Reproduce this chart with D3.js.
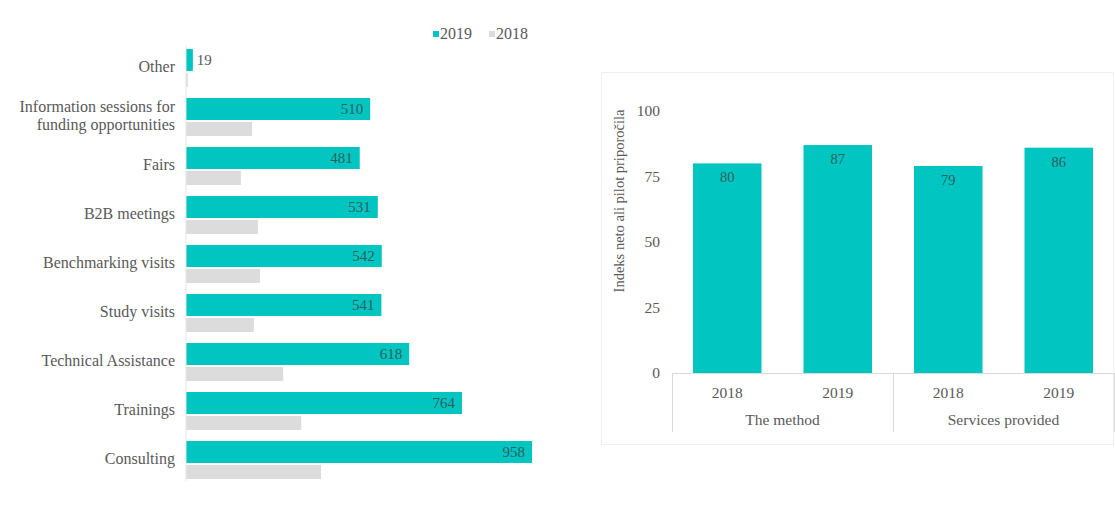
<!DOCTYPE html>
<html><head><meta charset="utf-8">
<script src="https://cdn.jsdelivr.net/npm/d3@7"></script>
<style>body{margin:0;background:#fff}svg{display:block}text{font-family:"Liberation Serif","Times New Roman",serif}</style>
</head><body><svg id="c" width="1115" height="522"></svg>
<script>
const categories = ["Other","Information sessions for|funding opportunities","Fairs","B2B meetings","Benchmarking visits","Study visits","Technical Assistance","Trainings","Consulting"];
const values2019 = [19,510,481,531,542,541,618,764,958];
const values2018 = [5,183,152,199,205,188,269,319,374];
const seriesNames = ["2019","2018"];
const groups = ["The method","Services provided"];
const years = ["2018","2019"];
const npsValues = [80,87,79,86];
const yTicks = [0,25,50,75,100];
const yTitle = "Indeks neto ali pilot priporočila";

const teal = "#00C5C0", grey = "#DCDCDC", txt = "#595959", lbl = "#2f5f5e";
const FSL = 16, FSR = 15.5;
const svg = d3.select("#c");

// ---------- left chart ----------
const L = {x0:186, top:36, step:49};
const xL = d3.scaleLinear().domain([0,958]).range([L.x0, 532]);
const yL = d3.scaleBand().domain(categories).range([L.top, L.top + L.step*categories.length]).paddingInner(0).paddingOuter(0);
const gL = svg.append("g");
const bh19 = 22, bh18 = 14;
categories.forEach((c,i)=>{
  const b = yL(c) + 13;
  gL.append("rect").attr("x",xL(0)).attr("y",b).attr("width",xL(values2019[i])-xL(0)).attr("height",bh19).attr("fill",teal);
  gL.append("rect").attr("x",xL(0)).attr("y",b+bh19+2).attr("width",Math.max(1,xL(values2018[i])-xL(0))).attr("height",bh18).attr("fill",grey);
  const v = values2019[i];
  if (v < 100) {
    gL.append("text").attr("x",xL(v)+4).attr("y",b+bh19/2+5).attr("font-size",FSL-1).attr("fill",txt).text(v);
  } else {
    gL.append("text").attr("x",xL(v)-7).attr("y",b+bh19/2+5).attr("font-size",FSL-1).attr("fill",lbl).attr("text-anchor","end").text(v);
  }
  const lines = c.split("|");
  const cy = b + 20;
  lines.forEach((ln,k)=>{
    gL.append("text").attr("x",175).attr("y",cy + (k - (lines.length-1)/2)*18 + 2.5).attr("text-anchor","end")
      .attr("font-size",FSL).attr("fill",txt).text(ln);
  });
});
gL.append("line").attr("x1",L.x0).attr("x2",L.x0).attr("y1",L.top+10).attr("y2",L.top+L.step*categories.length+4).attr("stroke","#e6e6e6");
// legend
const lg = svg.append("g").attr("transform","translate(433,34)");
[[teal,seriesNames[0]],[grey,seriesNames[1]]].forEach((d,i)=>{
  const ox = i*56;
  lg.append("rect").attr("x",ox).attr("y",-3).attr("width",6).attr("height",6).attr("fill",d[0]);
  lg.append("text").attr("x",ox+7).attr("y",5).attr("font-size",FSL).attr("fill",txt).text(d[1]);
});

// ---------- right chart ----------
svg.append("rect").attr("x",601.5).attr("y",72.5).attr("width",512).attr("height",372).attr("fill","none").attr("stroke","#efefef");
const yR = d3.scaleLinear().domain([0,100]).range([373,111]);
const xOuter = d3.scaleBand().domain(groups).range([672,1114]);
const xInner = d3.scaleBand().domain(years).range([0,xOuter.bandwidth()]).paddingInner(0.38).paddingOuter(0.19);
const gR = svg.append("g");
let idx = 0;
groups.forEach(g=>{
  years.forEach(yv=>{
    const v = npsValues[idx++];
    const x = xOuter(g) + xInner(yv);
    gR.append("rect").attr("x",x).attr("y",yR(v)).attr("width",xInner.bandwidth()).attr("height",yR(0)-yR(v)).attr("fill",teal);
    gR.append("text").attr("x",x+xInner.bandwidth()/2).attr("y",yR(v)+19).attr("text-anchor","middle").attr("font-size",FSR-1).attr("fill",lbl).text(v);
    gR.append("text").attr("x",x+xInner.bandwidth()/2).attr("y",398).attr("text-anchor","middle").attr("font-size",FSR).attr("fill",txt).text(yv);
  });
  gR.append("text").attr("x",xOuter(g)+xOuter.bandwidth()/2).attr("y",425).attr("text-anchor","middle").attr("font-size",FSR).attr("fill",txt).text(g);
});
// axis lines
gR.append("line").attr("x1",672).attr("x2",1114).attr("y1",373.5).attr("y2",373.5).attr("stroke","#d9d9d9");
[672, xOuter(groups[1]), 1114].forEach(x=>{
  gR.append("line").attr("x1",Math.round(x)+0.5).attr("x2",Math.round(x)+0.5).attr("y1",373).attr("y2",432).attr("stroke","#d9d9d9");
});
const yAxis = d3.axisLeft(yR).tickValues(yTicks).tickSize(0).tickPadding(0);
const ga = gR.append("g").attr("transform","translate(660,0)").call(yAxis);
ga.select(".domain").remove();
ga.selectAll("text").attr("font-size",FSR).attr("fill",txt).attr("font-family","Liberation Serif, serif");
gR.append("text").attr("transform","translate(624,201) rotate(-90)").attr("text-anchor","middle").attr("font-size",FSR-1).attr("fill",txt).text(yTitle);
</script></body></html>
